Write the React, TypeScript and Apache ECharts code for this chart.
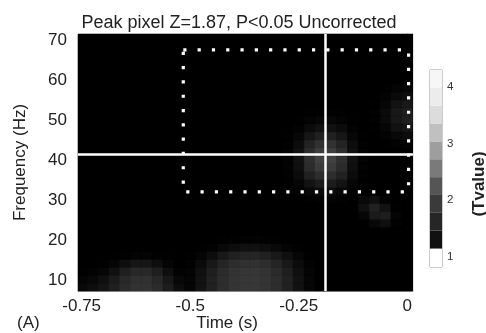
import React, { useEffect, useRef } from "react";
import * as echarts from "echarts";

// ---- axis / tick data ----
const TIME_TICKS = [-0.75, -0.5, -0.25, 0];
const FREQ_TICKS = [10, 20, 30, 40, 50, 60, 70];
const COLORBAR_TICKS = [1, 2, 3, 4];

// ---- heatmap cell grid (time in s, frequency in Hz) ----
const GRID_TIMES = [
  -0.75, -0.725, -0.7, -0.675, -0.65, -0.625, -0.6, -0.575, -0.55, -0.525,
  -0.5, -0.475, -0.45, -0.425, -0.4, -0.375, -0.35, -0.325, -0.3, -0.275,
  -0.25, -0.225, -0.2, -0.175, -0.15, -0.125, -0.1, -0.075, -0.05, -0.025, 0,
];
const GRID_FREQS = [
  8, 10, 12, 14, 16, 18, 20, 22, 24, 26, 28, 30, 32, 34, 36, 38, 40, 42, 44,
  46, 48, 50, 52, 54, 56, 58, 60, 62, 64, 66, 68, 70, 72,
];
const DT = 0.025;
const DF = 2;
const BACKGROUND_T = 1.3;

// peak blob near the crosshair
const PEAK_TIMES = [-0.275, -0.25, -0.225, -0.2, -0.175, -0.15, -0.125, -0.1];
const PEAK_FREQS = [52, 50, 48, 46, 44, 42, 40, 38, 36, 34, 32, 30];
const PEAK_VALUES = [
  [1.3, 1.3, 1.31, 1.32, 1.32, 1.31, 1.3, 1.3],
  [1.3, 1.31, 1.34, 1.37, 1.37, 1.34, 1.31, 1.3],
  [1.3, 1.33, 1.41, 1.47, 1.47, 1.41, 1.33, 1.3],
  [1.31, 1.37, 1.52, 1.62, 1.62, 1.52, 1.37, 1.31],
  [1.32, 1.42, 1.64, 1.78, 1.78, 1.64, 1.42, 1.32],
  [1.33, 1.46, 1.73, 1.9, 1.9, 1.73, 1.46, 1.33],
  [1.33, 1.47, 1.76, 1.94, 1.94, 1.76, 1.47, 1.33],
  [1.33, 1.45, 1.72, 1.88, 1.88, 1.72, 1.45, 1.33],
  [1.32, 1.41, 1.62, 1.74, 1.74, 1.62, 1.41, 1.32],
  [1.31, 1.36, 1.49, 1.57, 1.57, 1.49, 1.36, 1.31],
  [1.3, 1.32, 1.38, 1.42, 1.42, 1.38, 1.32, 1.3],
  [1.3, 1.3, 1.32, 1.33, 1.33, 1.32, 1.3, 1.3],
];

// low-frequency blob, left
const LOWA_TIMES = [-0.75, -0.725, -0.7, -0.675, -0.65, -0.625, -0.6, -0.575, -0.55, -0.525];
const LOWA_FREQS = [16, 14, 12, 10, 8];
const LOWA_VALUES = [
  [1.3, 1.3, 1.3, 1.31, 1.32, 1.34, 1.34, 1.32, 1.31, 1.3],
  [1.3, 1.3, 1.31, 1.35, 1.44, 1.52, 1.52, 1.44, 1.35, 1.3],
  [1.31, 1.33, 1.36, 1.46, 1.6, 1.69, 1.69, 1.6, 1.44, 1.33],
  [1.34, 1.38, 1.45, 1.56, 1.69, 1.77, 1.77, 1.69, 1.54, 1.38],
  [1.38, 1.43, 1.5, 1.6, 1.72, 1.79, 1.79, 1.72, 1.58, 1.42],
];

// low-frequency blob, middle
const LOWB_TIMES = [-0.5, -0.475, -0.45, -0.425, -0.4, -0.375, -0.35, -0.325, -0.3, -0.275, -0.25, -0.225];
const LOWB_FREQS = [20, 18, 16, 14, 12, 10, 8];
const LOWB_VALUES = [
  [1.3, 1.3, 1.3, 1.31, 1.32, 1.33, 1.33, 1.32, 1.31, 1.3, 1.3, 1.3],
  [1.3, 1.31, 1.33, 1.38, 1.43, 1.47, 1.47, 1.44, 1.39, 1.34, 1.31, 1.3],
  [1.31, 1.35, 1.43, 1.54, 1.62, 1.66, 1.66, 1.62, 1.54, 1.45, 1.36, 1.31],
  [1.32, 1.41, 1.54, 1.66, 1.74, 1.78, 1.78, 1.74, 1.66, 1.54, 1.42, 1.33],
  [1.34, 1.46, 1.6, 1.72, 1.8, 1.83, 1.83, 1.8, 1.72, 1.6, 1.46, 1.35],
  [1.35, 1.48, 1.62, 1.74, 1.81, 1.84, 1.84, 1.81, 1.74, 1.62, 1.48, 1.36],
  [1.35, 1.48, 1.62, 1.74, 1.81, 1.84, 1.84, 1.81, 1.74, 1.62, 1.48, 1.36],
];

// faint blob at the right edge
const EDGE_TIMES = [-0.075, -0.05, -0.025, 0];
const EDGE_FREQS = [58, 56, 54, 52, 50, 48, 46, 44];
const EDGE_VALUES = [
  [1.3, 1.31, 1.34, 1.36],
  [1.3, 1.33, 1.4, 1.44],
  [1.31, 1.36, 1.48, 1.54],
  [1.32, 1.4, 1.54, 1.6],
  [1.32, 1.4, 1.54, 1.6],
  [1.31, 1.36, 1.48, 1.52],
  [1.3, 1.33, 1.38, 1.42],
  [1.3, 1.31, 1.33, 1.34],
];

// small elongated blob below the box
const SMALL_TIMES = [-0.1, -0.075, -0.05, -0.025];
const SMALL_FREQS = [30, 28, 26, 24];
const SMALL_VALUES = [
  [1.4, 1.45, 1.34, 1.3],
  [1.46, 1.62, 1.48, 1.31],
  [1.36, 1.55, 1.58, 1.35],
  [1.3, 1.38, 1.45, 1.32],
];

// ---- annotations ----
const PEAK_TIME = -0.189;
const PEAK_FREQ = 41.3;
const ROI_TIMES = [-0.516, 0.003];
const ROI_FREQS = [31.9, 67.5];

// ---- colorbar ----
const COLORBAR_BOUNDS = [0.81, 1.135, 1.45, 1.764, 2.079, 2.393, 2.708, 3.022, 3.337, 3.651, 3.966, 4.28];
const COLORBAR_COLORS = [
  "#ffffff", "#111111", "#262626", "#3a3a3a", "#555555", "#7a7a7a",
  "#9e9e9e", "#c0c0c0", "#dcdcdc", "#ececec", "#f6f6f6",
];

const FONT = "'Liberation Sans', Arial, sans-serif";

function gray(v: number): string {
  const g = Math.round(Math.max(0, Math.min(1, (v - 1.3) / 2.5)) * 255);
  return `rgb(${g},${g},${g})`;
}

function buildCells(): number[][] {
  const map = new Map<string, number>();
  const key = (t: number, f: number) => `${t.toFixed(4)}|${f}`;
  const patches: [number[], number[], number[][]][] = [
    [PEAK_TIMES, PEAK_FREQS, PEAK_VALUES],
    [LOWA_TIMES, LOWA_FREQS, LOWA_VALUES],
    [LOWB_TIMES, LOWB_FREQS, LOWB_VALUES],
    [EDGE_TIMES, EDGE_FREQS, EDGE_VALUES],
    [SMALL_TIMES, SMALL_FREQS, SMALL_VALUES],
  ];
  for (const [ts, fs, vs] of patches) {
    fs.forEach((f, i) =>
      ts.forEach((t, j) => {
        const k = key(t, f);
        const prev = map.get(k);
        map.set(k, prev === undefined ? vs[i][j] : Math.max(prev, vs[i][j]));
      })
    );
  }
  const cells: number[][] = [];
  for (const f of GRID_FREQS) {
    for (const t of GRID_TIMES) {
      const v = map.get(key(t, f));
      cells.push([t, f, v === undefined ? BACKGROUND_T : v]);
    }
  }
  return cells;
}

export default function App() {
  const ref = useRef<HTMLDivElement>(null);
  useEffect(() => {
    if (!ref.current) return;
    const chart = echarts.init(ref.current, null, { renderer: "svg" });
    const cells = buildCells();
    const roi = [
      [ROI_TIMES[0], ROI_FREQS[1]],
      [ROI_TIMES[1], ROI_FREQS[1]],
      [ROI_TIMES[1], ROI_FREQS[0]],
      [ROI_TIMES[0], ROI_FREQS[0]],
      [ROI_TIMES[0], ROI_FREQS[1]],
    ];
    const cbData = COLORBAR_COLORS.map((_, i) => [0, COLORBAR_BOUNDS[i], COLORBAR_BOUNDS[i + 1], i]);
    const labelStyle = { fontFamily: FONT, fontSize: 17, color: "#222" };

    chart.setOption({
      animation: false,
      title: {
        text: "Peak pixel Z=1.87, P<0.05 Uncorrected",
        left: 234,
        top: 8,
        textAlign: "center",
        textStyle: { fontFamily: FONT, fontSize: 18, fontWeight: "normal", color: "#222" },
      },
      grid: [
        { left: 78, top: 34, width: 335, height: 257, show: true, backgroundColor: "#000", borderWidth: 0, outerBoundsMode: "none", containLabel: false },
        { left: 430, top: 70, width: 12, height: 197, show: true, borderColor: "#999", borderWidth: 1, backgroundColor: "transparent", outerBoundsMode: "none", containLabel: false },
      ],
      xAxis: [
        {
          type: "value",
          gridIndex: 0,
          min: -0.7585,
          max: 0.0132,
          axisLine: { show: true, lineStyle: { color: "#aaa", width: 1 } },
          axisTick: { show: false },
          splitLine: { show: false },
          axisLabel: { ...labelStyle, margin: 6, customValues: TIME_TICKS },
        },
        { type: "value", gridIndex: 1, min: 0, max: 1, show: false },
      ],
      yAxis: [
        {
          type: "value",
          gridIndex: 0,
          min: 7,
          max: 71.5,
          axisLine: { show: true, lineStyle: { color: "#aaa", width: 1 } },
          axisTick: { show: false },
          splitLine: { show: false },
          axisLabel: { ...labelStyle, margin: 11, customValues: FREQ_TICKS },
          name: "Frequency (Hz)",
          nameLocation: "middle",
          nameGap: 50,
          nameTextStyle: labelStyle,
        },
        {
          type: "value",
          gridIndex: 1,
          min: 0.81,
          max: 4.28,
          position: "right",
          axisLine: { show: false },
          axisTick: { show: false },
          splitLine: { show: false },
          axisLabel: { fontFamily: FONT, fontSize: 11.5, color: "#333", margin: 5, customValues: COLORBAR_TICKS },
        },
      ],
      series: [
        {
          type: "custom",
          xAxisIndex: 0,
          yAxisIndex: 0,
          silent: true,
          data: cells,
          renderItem: (params: any, api: any) => {
            const t = api.value(0);
            const f = api.value(1);
            const v = api.value(2);
            const p1 = api.coord([t - DT / 2, f + DF / 2]);
            const p2 = api.coord([t + DT / 2, f - DF / 2]);
            const cs = params.coordSys;
            const rect = echarts.graphic.clipRectByRect(
              { x: p1[0], y: p1[1], width: p2[0] - p1[0], height: p2[1] - p1[1] },
              { x: cs.x, y: cs.y, width: cs.width, height: cs.height }
            );
            if (!rect) return null;
            const c = gray(v);
            return { type: "rect", shape: rect, style: { fill: c, stroke: c, lineWidth: 0.6 } };
          },
        },
        {
          type: "line",
          xAxisIndex: 0,
          yAxisIndex: 0,
          silent: true,
          data: roi,
          symbol: "none",
          showSymbol: false,
          z: 5,
          lineStyle: { color: "#fff", width: 3.2, type: [3.2, 11.1], cap: "butt" },
          markLine: {
            silent: true,
            symbol: ["none", "none"],
            label: { show: false },
            lineStyle: { color: "#fff", width: 2.5, type: "solid" },
            emphasis: { disabled: true },
            data: [{ xAxis: PEAK_TIME }, { yAxis: PEAK_FREQ }],
          },
        },
        {
          type: "custom",
          xAxisIndex: 1,
          yAxisIndex: 1,
          silent: true,
          data: cbData,
          renderItem: (params: any, api: any) => {
            const lo = api.value(1);
            const hi = api.value(2);
            const idx = api.value(3);
            const p1 = api.coord([0, hi]);
            const p2 = api.coord([1, lo]);
            const cs = params.coordSys;
            const rect = echarts.graphic.clipRectByRect(
              { x: p1[0], y: p1[1], width: p2[0] - p1[0], height: p2[1] - p1[1] },
              { x: cs.x, y: cs.y, width: cs.width, height: cs.height }
            );
            if (!rect) return null;
            return { type: "rect", shape: rect, style: { fill: COLORBAR_COLORS[idx] } };
          },
        },
      ],
      graphic: [
        {
          type: "text",
          x: 227,
          y: 322,
          style: {
            text: "Time (s)",
            font: `17px ${FONT}`,
            fill: "#222",
            textAlign: "center",
            textVerticalAlign: "middle",
          },
        },
        {
          type: "text",
          left: 17,
          top: 314,
          style: { text: "(A)", font: `17px ${FONT}`, fill: "#222" },
        },
        {
          type: "text",
          x: 478,
          y: 184,
          rotation: Math.PI / 2,
          style: {
            text: "(Tvalue)",
            font: `bold 17px ${FONT}`,
            fill: "#222",
            textAlign: "center",
            textVerticalAlign: "middle",
          },
        },
      ],
    });
    return () => chart.dispose();
  }, []);
  return <div ref={ref} style={{ position: "fixed", left: 0, top: 0, width: 486, height: 333 }} />;
}
